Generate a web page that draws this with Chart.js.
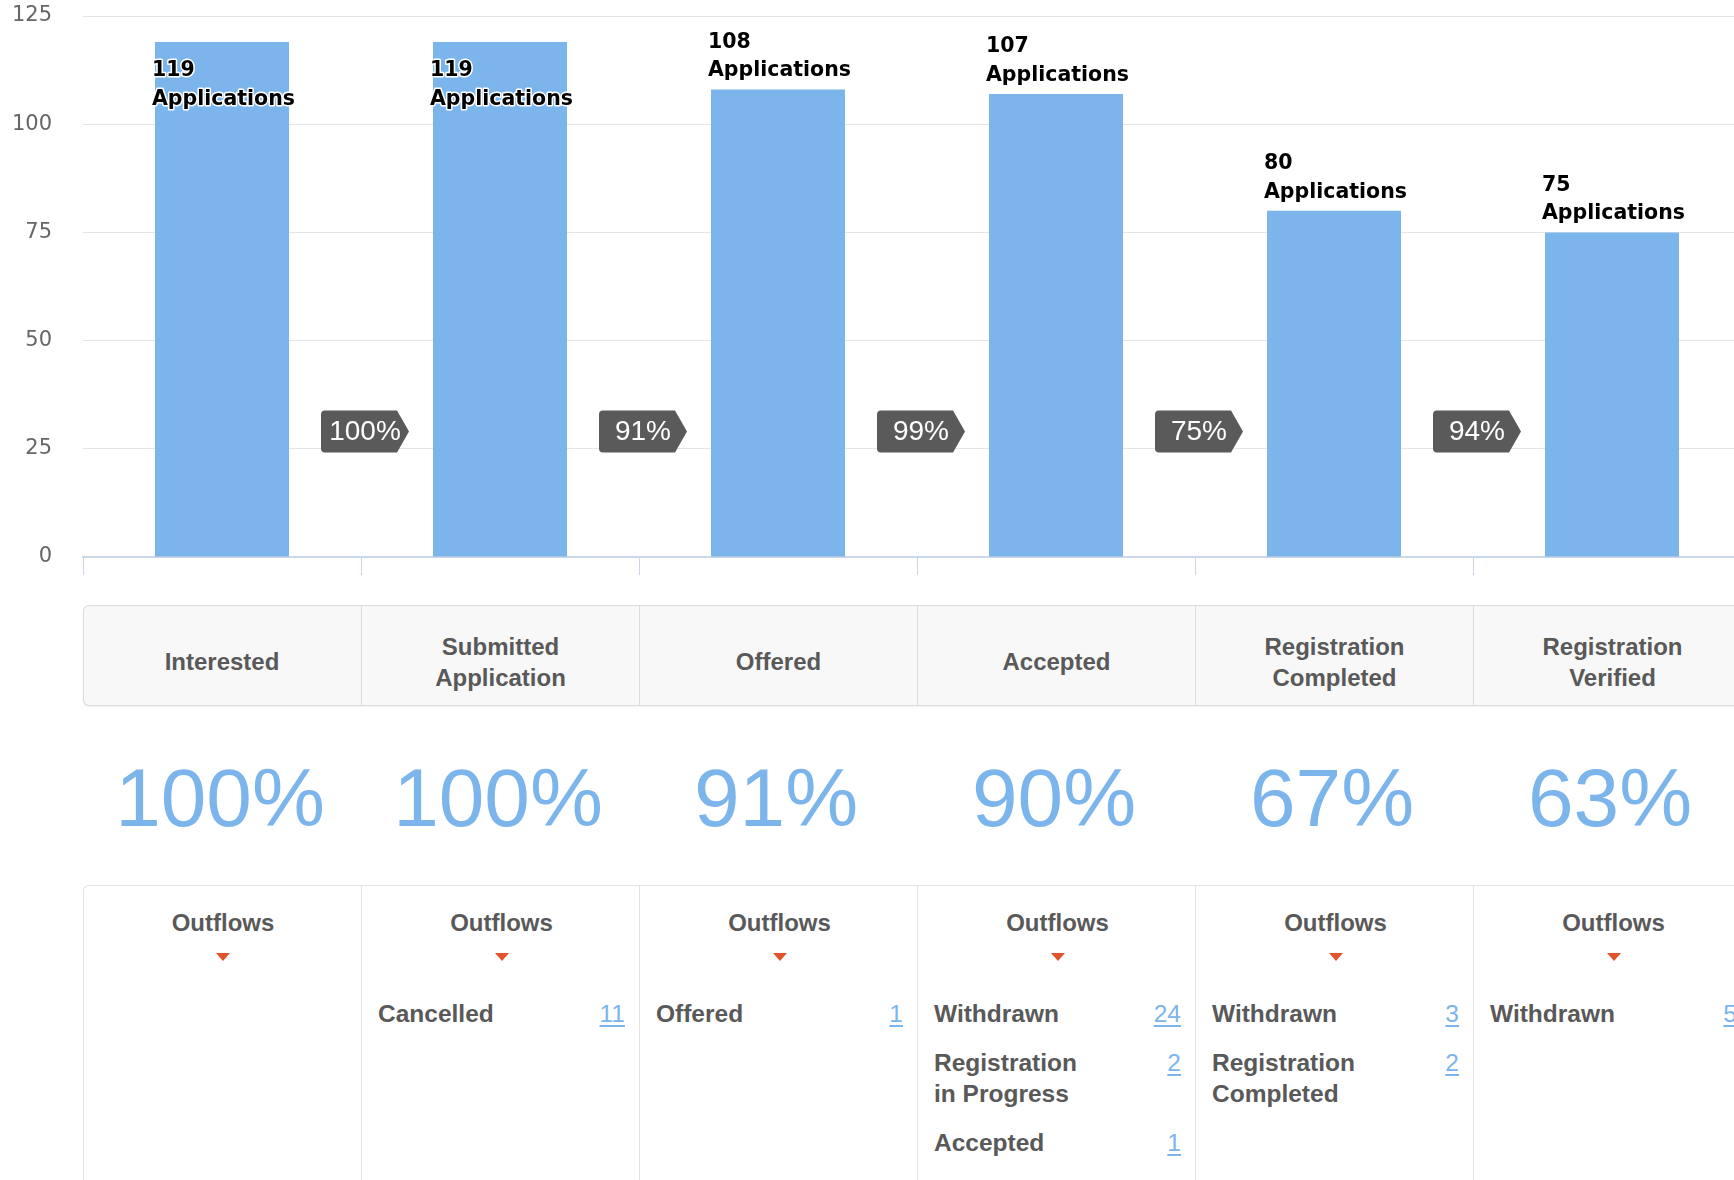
<!DOCTYPE html>
<html>
<head>
<meta charset="utf-8">
<title>Application Funnel</title>
<script src="https://cdn.jsdelivr.net/npm/chart.js@4.4.1/dist/chart.umd.min.js"></script>
<style>
  html, body {
    margin: 0;
    padding: 0;
    background: #fff;
    overflow: hidden;
    height: 1180px;
  }
  #page {
    position: relative;
    width: 1790px;
    height: 1180px;
    font-family: "Liberation Sans", Arial, Helvetica, sans-serif;
  }
  .chart-container {
    position: absolute;
    left: 0;
    top: 0;
  }
  /* stage name strip under the axis */
  #stages {
    position: absolute;
    top: 605px;
    height: 101px;
    box-sizing: border-box;
    background: #f8f8f8;
    border: 1px solid #dcdcdc;
    border-right: none;
    border-radius: 6px 0 0 6px;
    box-shadow: 0 1px 2px rgba(0, 0, 0, 0.06);
  }
  .stage {
    position: absolute;
    top: 0;
    height: 99px;
    box-sizing: border-box;
    padding: 12px 26px 0;
    display: flex;
    align-items: center;
    justify-content: center;
    text-align: center;
    font-weight: bold;
    font-size: 24px;
    line-height: 31px;
    color: #595959;
  }
  .stage + .stage { border-left: 1px solid #dcdcdc; }
  /* overall conversion numbers */
  .rate {
    position: absolute;
    top: 748px;
    height: 100px;
    line-height: 100px;
    text-align: center;
    font-size: 82px;
    color: #7cb5ec;
  }
  /* outflow lists */
  #outflows {
    position: absolute;
    top: 885px;
    height: 320px;
    box-sizing: border-box;
    border-top: 1px solid #e3e3e3;
    border-left: 1px solid #e3e3e3;
    border-top-left-radius: 6px;
  }
  .outflow {
    position: absolute;
    top: 0;
    height: 320px;
    box-sizing: border-box;
    padding: 21px 14px 0 16px;
  }
  .outflow + .outflow { border-left: 1px solid #e3e3e3; }
  .outflow h4 {
    margin: 0;
    text-align: center;
    font-size: 24px;
    line-height: 31px;
    color: #595959;
  }
  .outflow .caret {
    width: 0;
    height: 0;
    margin: 15px auto 0;
    border-left: 7.5px solid transparent;
    border-right: 7.5px solid transparent;
    border-top: 8px solid #e2522b;
  }
  .outflow ul {
    list-style: none;
    margin: 37px 0 0;
    padding: 0;
  }
  .outflow li {
    display: flex;
    align-items: flex-start;
    justify-content: space-between;
    margin-bottom: 18px;
    font-size: 24.5px;
    line-height: 31px;
  }
  .outflow li span {
    max-width: 162px;
    font-weight: bold;
    color: #595959;
  }
  .outflow li a {
    color: #7cb5ec;
    text-decoration: underline;
    text-underline-offset: 3px;
  }
</style>
</head>
<body>
<div id="page">
  <div class="chart-container">
    <canvas id="funnelChart" width="1790" height="600"></canvas>
  </div>
  <div id="stages"></div>
  <div id="rates"></div>
  <div id="outflows"></div>
</div>

<script>
// funnel data
const stageNames = ['Interested', 'Submitted Application', 'Offered', 'Accepted', 'Registration Completed', 'Registration Verified'];
const applications = [119, 119, 108, 107, 80, 75];
const stepRates = [100, 91, 99, 75, 94]; // stage to next stage
const overallRates = [100, 100, 91, 90, 67, 63]; // against Interested
const outflowNames = [
  [],
  ['Cancelled'],
  ['Offered'],
  ['Withdrawn', 'Registration in Progress', 'Accepted'],
  ['Withdrawn', 'Registration Completed'],
  ['Withdrawn'],
];
const outflowCounts = [
  [],
  [11],
  [1],
  [24, 2, 1],
  [3, 2],
  [5],
];
const yTicks = [0, 25, 50, 75, 100, 125];

const TAG_LEVEL = 29; // y value the step tags sit on
const BAR_BLUE = '#7cb5ec';

// "119 / Applications" labels over each bar
const barLabels = {
  id: 'barLabels',
  afterDatasetsDraw(chart) {
    const ctx = chart.ctx;
    const top = chart.chartArea.top;
    const bars = chart.getDatasetMeta(0).data;
    ctx.save();
    ctx.font = 'bold 20.5px "DejaVu Sans", sans-serif';
    ctx.textAlign = 'left';
    ctx.textBaseline = 'middle';
    ctx.lineJoin = 'round';
    ctx.lineWidth = 3;
    ctx.strokeStyle = '#ffffff';
    ctx.fillStyle = '#000000';
    bars.forEach((bar, i) => {
      const x = bar.x - bar.width / 2 - 3;
      let y1 = bar.y - 47;
      // no room above the bar -> push it inside
      if (y1 - 12 < top) y1 = bar.y + 29;
      const y2 = y1 + 28.5;
      [[String(applications[i]), y1], ['Applications', y2]].forEach(([txt, y]) => {
        ctx.strokeText(txt, x, y);
        ctx.fillText(txt, x, y);
      });
    });
    ctx.restore();
  },
};

// dark arrow tags between bars with the step conversion
const stepTags = {
  id: 'stepTags',
  afterDatasetsDraw(chart) {
    const ctx = chart.ctx;
    const xs = chart.scales.x;
    const cy = chart.scales.y.getPixelForValue(TAG_LEVEL);
    const h = 42;
    ctx.save();
    stepRates.forEach((rate, i) => {
      const b = (xs.getPixelForValue(i) + xs.getPixelForValue(i + 1)) / 2;
      const left = b - 40, right = b + 36, tip = b + 48, r = 4;
      const t = cy - h / 2, btm = cy + h / 2;
      ctx.beginPath();
      ctx.moveTo(left + r, t);
      ctx.lineTo(right, t);
      ctx.lineTo(tip, cy);
      ctx.lineTo(right, btm);
      ctx.lineTo(left + r, btm);
      ctx.quadraticCurveTo(left, btm, left, btm - r);
      ctx.lineTo(left, t + r);
      ctx.quadraticCurveTo(left, t, left + r, t);
      ctx.closePath();
      ctx.fillStyle = '#5a5a5a';
      ctx.fill();
      ctx.fillStyle = '#ffffff';
      ctx.font = '28px "Liberation Sans", Arial, sans-serif';
      ctx.textAlign = 'center';
      ctx.textBaseline = 'middle';
      ctx.fillText(`${rate}%`, b + 4, cy + 1);
    });
    ctx.restore();
  },
};

const ctx = document.getElementById('funnelChart').getContext('2d');
const funnelChart = new Chart(ctx, {
  type: 'bar',
  data: {
    labels: stageNames,
    datasets: [
      {
        label: 'Applications',
        data: applications,
        backgroundColor: BAR_BLUE,
        borderWidth: 0,
        barPercentage: 0.482,
        categoryPercentage: 1,
      },
    ],
  },
  options: {
    responsive: false,
    animation: false,
    events: [],
    layout: { padding: { top: 16, right: 39, left: 0, bottom: 0 } },
    plugins: {
      legend: { display: false },
      tooltip: { enabled: false },
    },
    scales: {
      x: {
        ticks: { display: false },
        grid: {
          offset: true,
          drawOnChartArea: false,
          drawTicks: true,
          tickLength: 18,
          color: '#ccd6eb',
          lineWidth: 1,
        },
        border: { display: true, color: '#ccd6eb', width: 2 },
        afterFit(scale) { scale.height = 43; },
      },
      y: {
        min: 0,
        max: yTicks[yTicks.length - 1],
        afterBuildTicks(scale) { scale.ticks = yTicks.map((v) => ({ value: v })); },
        ticks: {
          padding: 31,
          color: '#666666',
          font: { family: '"DejaVu Sans", sans-serif', size: 21 },
        },
        grid: { color: '#e6e6e6', drawTicks: false },
        border: { display: false },
        afterFit(scale) {
          scale.width = 83;
          // top/bottom labels may hang over the plot edge
          scale.paddingTop = 0;
          scale.paddingBottom = 0;
        },
      },
    },
  },
  plugins: [barLabels, stepTags],
});

// lay out the table part on the same columns as the x axis
const xs = funnelChart.scales.x;
const colW = xs.width / stageNames.length;
const left0 = xs.left;
const fullW = 1790 - left0;

const stagesDiv = document.getElementById('stages');
const ratesDiv = document.getElementById('rates');
const outflowsDiv = document.getElementById('outflows');

stagesDiv.style.left = `${left0}px`;
stagesDiv.style.width = `${fullW}px`;
outflowsDiv.style.left = `${left0}px`;
outflowsDiv.style.width = `${fullW}px`;

stageNames.forEach((name, i) => {
  const colLeft = xs.getPixelForValue(i) - colW / 2 - left0;

  const stage = document.createElement('div');
  stage.className = 'stage';
  stage.style.left = `${colLeft - 1}px`;
  stage.style.width = `${colW}px`;
  stage.textContent = name;
  stagesDiv.appendChild(stage);

  const rate = document.createElement('div');
  rate.className = 'rate';
  rate.style.left = `${colLeft + left0 - 2}px`;
  rate.style.width = `${colW}px`;
  rate.textContent = `${overallRates[i]}%`;
  ratesDiv.appendChild(rate);

  const out = document.createElement('div');
  out.className = 'outflow';
  out.style.left = `${colLeft - 1}px`;
  out.style.width = `${colW}px`;
  const items = outflowNames[i]
    .map((n, k) => `<li><span>${n}</span><a>${outflowCounts[i][k]}</a></li>`)
    .join('');
  out.innerHTML = `<h4>Outflows</h4><div class="caret"></div><ul>${items}</ul>`;
  outflowsDiv.appendChild(out);
});
</script>
</body>
</html>
